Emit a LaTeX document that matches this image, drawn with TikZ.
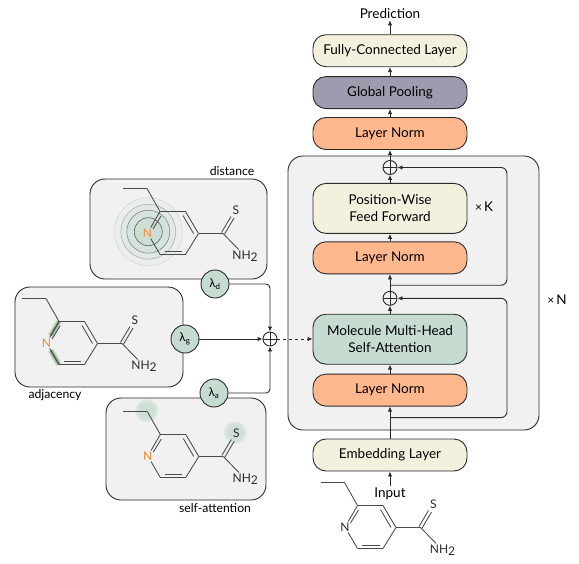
\documentclass[tikz,border=0pt]{standalone}
\usepackage{fontspec}
\setmainfont{Lato}
\usetikzlibrary{arrows.meta,positioning}

\definecolor{panelgray}{HTML}{F1F1F1}
\definecolor{creamfill}{HTML}{F3F1DE}
\definecolor{poolfill}{HTML}{9D9CAF}
\definecolor{normfill}{HTML}{FFB88D}
\definecolor{attnfill}{HTML}{C6DCD0}
\definecolor{nitro}{HTML}{F58A3C}
\definecolor{inkline}{HTML}{2A2A2A}

\tikzset{
	bond/.style={draw=inkline!85,line width=.85pt},
	atom/.style={inner sep=1pt,font=\fontsize{12}{12}\selectfont,text=inkline},
	pics/molecule/.style={code={
		\coordinate (-c2) at (-13,-21.5);
		\coordinate (-c3) at (12.5,-21.5);
		\coordinate (-c4) at (25.5,0.5);
		\coordinate (-c5) at (12.5,21.5);
		\coordinate (-c6) at (-13,21.5);
		\coordinate (-c7) at (50,0.5);
		\coordinate (-e1) at (-26,-44.5);
		\coordinate (-e2) at (-50,-44.5);
		\node[atom,text=#1] (-n) at (-25.5,0) {N};
		\node[atom] (-s) at (63,-23) {S};
		\node[atom] (-nh) at (72,23) {NH\raisebox{-2pt}{2}};
		\foreach \a/\b in {e2/e1,e1/c2,c2/c3,c3/c4,c4/c5,c5/c6,c4/c7}
			\draw[bond] (-\a) -- (-\b);
		\draw[bond] (-n) -- (-c2);
		\draw[bond] (-n) -- (-c6);
		\draw[bond] (-c7) -- (-nh);
		\draw[bond] (-20,-4) -- (-12,-17);
		\draw[bond] (10,-17.5) -- (20.5,0.5);
		\draw[bond] (-8.5,18) -- (9,18);
		\draw[bond] (48.5,-0.5) -- (58,-16.5);
		\draw[bond] (51.5,1.2) -- (61,-15);
	}}
}

\begin{document}
\begin{tikzpicture}[
		x=1pt,y=-1pt,
		node distance=9pt,
		stackbox/.style={
			draw=inkline,
			line width=.9pt,
			rounded corners=13pt,
			align=center,
			minimum width=154pt,
			minimum height=32pt,
			font=\fontsize{13.5}{17}\selectfont
		},
		tallbox/.style={stackbox,minimum height=50pt},
		panel/.style={draw=inkline,line width=.9pt,fill=panelgray,rounded corners=15pt},
		lambda/.style={draw=inkline,line width=.9pt,fill=attnfill,circle,minimum size=28pt,inner sep=0pt,font=\fontsize{12}{12}\selectfont},
		addsym/.style={
			draw=inkline,line width=.9pt,circle,minimum size=14pt,inner sep=0pt,
			path picture={
				\draw[inkline,line width=.7pt] (path picture bounding box.north) -- (path picture bounding box.south);
				\draw[inkline,line width=.7pt] (path picture bounding box.west) -- (path picture bounding box.east);
			}
		},
		caption/.style={font=\fontsize{12.2}{14}\selectfont,inner sep=1pt},
		plain/.style={font=\fontsize{13.5}{16}\selectfont,inner sep=1pt},
		arrow/.style={-{Latex[length=5pt,width=4.5pt]},draw=inkline,line width=.9pt},
		halo/.style={circle,fill=attnfill,fill opacity=.35,minimum size=#1,inner sep=0pt}
	]
	\useasboundingbox (0,0) rectangle (579,563);
	
	\node[panel,minimum width=251pt,minimum height=274pt] (encoder) at (413.5,293) {};
	\node[panel,minimum width=177pt,minimum height=100pt] (distpanel) at (178.5,229) {};
	\node[panel,minimum width=168pt,minimum height=100pt] (adjpanel) at (99,337) {};
	\node[panel,minimum width=160pt,minimum height=102pt] (selfpanel) at (186,449) {};
	
	% distance rings
	\foreach \r/\op/\ed in {68/.1/.12,55/.25/.3,43/.4/.5,28/.55/.7}
		\node[circle,minimum size=\r pt,inner sep=0pt,draw=inkline,draw opacity=\ed,fill=attnfill,fill opacity=\op,line width=.6pt] at (148.3,231.7) {};
	
	% self-attention halos
	\foreach \r in {23,20,17,13}{
		\node[halo=\r pt] at (146.7,410.7) {};
		\node[halo=\r pt] at (235.3,432.7) {};
	}
	
	\pic (moldist) at (173,233) {molecule=nitro};
	\pic (moladj) at (72,343) {molecule=nitro};
	\pic (molself) at (173.3,456) {molecule=nitro};
	\pic (molin) at (370.5,527) {molecule=inkline};
	
	% adjacency highlight
	\foreach \w/\op in {7/.05,5.5/.08,4/.14,2.5/.2}{
		\draw[green!25!black,line width=\w pt,opacity=\op,shorten <=2pt] (moladj-n) -- (moladj-c2);
		\draw[green!25!black,line width=\w pt,opacity=\op,shorten <=2pt] (moladj-n) -- (moladj-c6);
	}
	
	\node[stackbox,fill=creamfill] (embed) at (390,455) {Embedding Layer};
	\node[stackbox,fill=normfill,above=32pt of embed] (normb) {Layer Norm};
	\node[tallbox,fill=attnfill,above=of normb] (attn) {Molecule Multi-Head\\Self-Attention};
	\node[addsym,above=8pt of attn] (addb) {};
	\node[stackbox,fill=normfill,above=39.5pt of attn] (norma) {Layer Norm};
	\node[tallbox,fill=creamfill,above=7.5pt of norma] (feed) {Position-Wise\\Feed Forward};
	\node[addsym,above=8pt of feed] (adda) {};
	\node[stackbox,fill=normfill,above=33pt of feed] (normc) {Layer Norm};
	\node[stackbox,fill=poolfill,above=8pt of normc] (pool) {Global Pooling};
	\node[stackbox,fill=creamfill,above=of pool] (full) {Fully-Connected Layer};
	\node[plain,above=14pt of full] (pred) {Prediction};
	\node[plain,below=15pt of embed] (input) {Input};
	
	\coordinate[below=11pt of normb] (skipb);
	\coordinate[below=11pt of norma] (skipa);
	
	\node[plain] (timesk) at (484,207) {\fontsize{12}{12}\selectfont×\,\fontsize{13.5}{16}\selectfont K};
	\node[plain] (timesn) at (557,300) {\fontsize{12}{12}\selectfont×\,\fontsize{13.5}{16}\selectfont N};
	
	\node[caption] (distlabel) at (232,171) {distance};
	\node[caption] (adjlabel) at (55,395) {adjacency};
	\node[caption] (selflabel) at (215,508) {self-attention};
	
	\node[lambda] (lamd) at (215,284) {λ\textsubscript{d}};
	\node[lambda] (lamg) at (185,339) {λ\textsubscript{g}};
	\node[lambda] (lama) at (214,393) {λ\textsubscript{a}};
	\node[addsym] (addl) at (270,339) {};
	
	\draw[arrow] (input) -- (embed);
	\draw[arrow] (embed) -- (normb);
	\draw[arrow] (normb) -- (attn);
	\draw[arrow] (attn) -- (addb);
	\draw[arrow] (addb) -- (norma);
	\draw[arrow] (norma) -- (feed);
	\draw[arrow] (feed) -- (adda);
	\draw[arrow] (adda) -- (normc);
	\draw[arrow] (normc) -- (pool);
	\draw[arrow] (pool) -- (full);
	\draw[arrow] (full) -- (pred);
	
	\draw[arrow,rounded corners=6pt] (skipb) -- ++(117,0) |- (addb);
	\draw[arrow,rounded corners=6pt] (skipa) -- ++(117,0) |- (adda);
	
	\draw[arrow,rounded corners=4pt] (lamd) -| (addl);
	\draw[arrow,rounded corners=4pt] (lama) -| (addl);
	\draw[arrow] (lamg) -- (addl);
	\draw[arrow,dashed] (addl) -- (attn.west |- addl);
	
\end{tikzpicture}
\end{document}
